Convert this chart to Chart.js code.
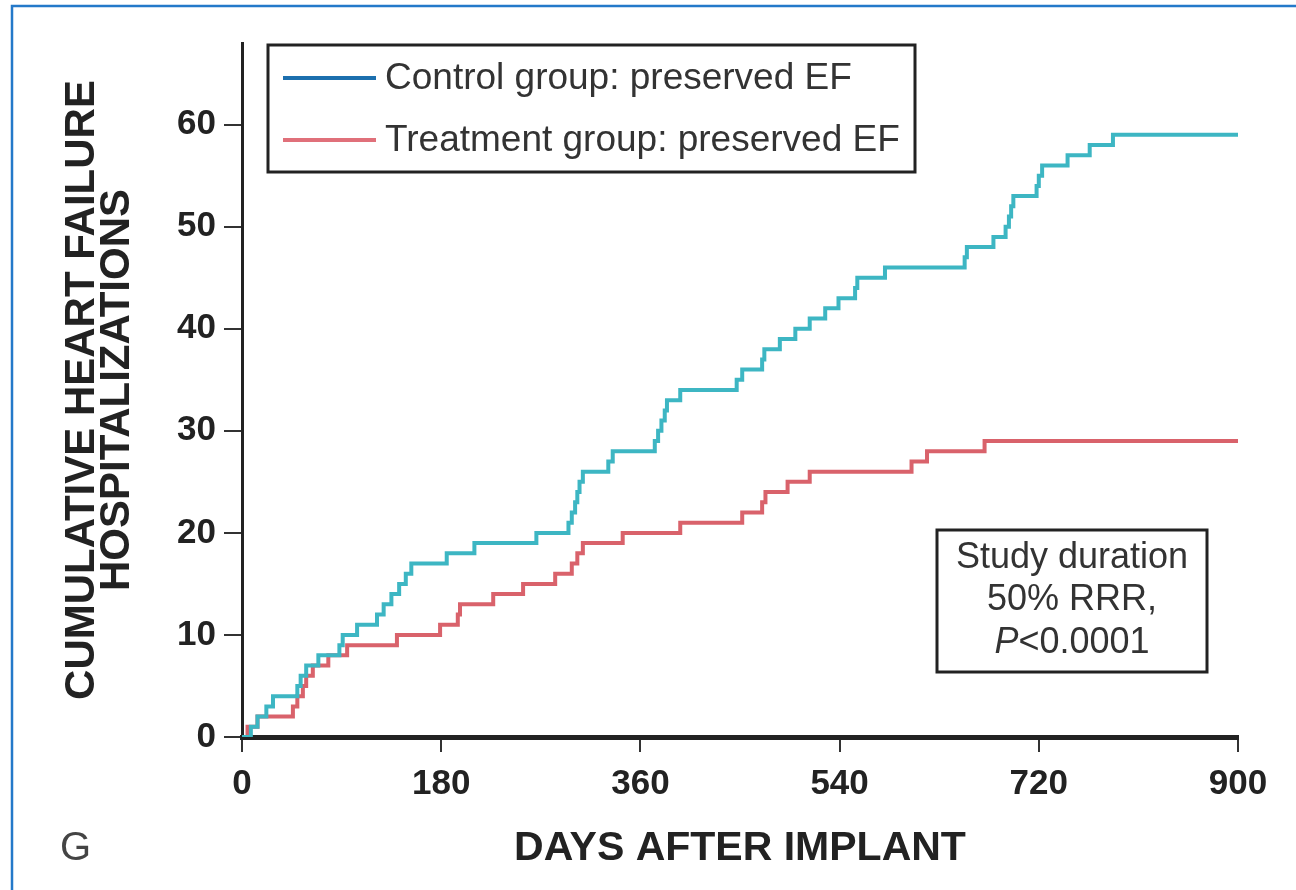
<!DOCTYPE html>
<html>
<head>
<meta charset="utf-8">
<title>Cumulative heart failure hospitalizations</title>
<script src="https://cdn.jsdelivr.net/npm/chart.js@4.4.1/dist/chart.umd.min.js"></script>
<style>
  html, body { margin: 0; padding: 0; background: #fff; overflow: hidden; }
  #graf { display: block; }
</style>
</head>
<body>
<canvas id="graf" width="1296" height="890"></canvas>
<script>
// === DADOS (dia do evento, contagem acumulada) ===
const controlDays = [0, 8, 14, 22, 28, 50, 53, 58, 69, 88, 91, 104, 122, 128, 135, 142, 148, 153,
  185, 210, 266, 295, 298, 301, 303, 305, 308, 331, 335, 373, 376, 379, 382, 384, 396,
  447, 452, 470, 472, 486, 500, 513, 527, 539, 554, 556, 581, 653, 655, 679, 690, 693,
  695, 697, 718, 720, 723, 746, 766, 787, 900];
const controlCounts = [0, 1, 2, 3, 4, 5, 6, 7, 8, 9, 10, 11, 12, 13, 14, 15, 16, 17,
  18, 19, 20, 21, 22, 23, 24, 25, 26, 27, 28, 29, 30, 31, 32, 33, 34,
  35, 36, 37, 38, 39, 40, 41, 42, 43, 44, 45, 46, 47, 48, 49, 50, 51,
  52, 53, 54, 55, 56, 57, 58, 59, 59];

const treatDays = [0, 5, 14, 46, 50, 55, 58, 64, 78, 95, 140, 179, 195, 197, 227, 254, 283,
  298, 303, 308, 344, 396, 452, 470, 473, 493, 513, 605, 619, 671, 900];
const treatCounts = [0, 1, 2, 3, 4, 5, 6, 7, 8, 9, 10, 11, 12, 13, 14, 15, 16,
  17, 18, 19, 20, 21, 22, 23, 24, 25, 26, 27, 28, 29, 29];

const seriesLabels = ["Control group: preserved EF", "Treatment group: preserved EF"];
const xTicks = [0, 180, 360, 540, 720, 900];
const yTicks = [0, 10, 20, 30, 40, 50, 60];
const statsLines = ["Study duration", "50% RRR,", "<0.0001"];

// === CORES ===
const corCurvaControle = "#3db6c3";
const corCurvaTratamento = "#d9626b";
const corLegendaControle = "#1c6fae";
const corLegendaTratamento = "#e0707a";
const corTexto = "#222";
const FONTE = '"Liberation Sans", Arial, sans-serif';

const pontos = (dias, vals) => dias.map((d, i) => ({ x: d, y: vals[i] }));

// legenda com borda, caixa de estatística, letra do painel e moldura azul
const decoracao = {
  id: "decoracao",
  afterDraw(chart) {
    const { ctx } = chart;
    ctx.save();

    // moldura azul da figura
    ctx.strokeStyle = "#2479c9";
    ctx.lineWidth = 2.5;
    ctx.strokeRect(12, 6, 1300, 900);

    // legenda
    ctx.fillStyle = "#fff";
    ctx.fillRect(268, 45, 647, 127);
    ctx.strokeStyle = "#222";
    ctx.lineWidth = 3;
    ctx.strokeRect(268, 45, 647, 127);
    const amostras = [corLegendaControle, corLegendaTratamento];
    const linhasY = [78, 140];
    ctx.font = "37px " + FONTE;
    ctx.textBaseline = "middle";
    ctx.textAlign = "left";
    seriesLabels.forEach((lab, i) => {
      ctx.strokeStyle = amostras[i];
      ctx.lineWidth = 4;
      ctx.beginPath();
      ctx.moveTo(283, linhasY[i]);
      ctx.lineTo(376, linhasY[i]);
      ctx.stroke();
      ctx.fillStyle = "#333";
      ctx.fillText(lab, 385, linhasY[i] + 1);
    });

    // caixa de estatística
    ctx.strokeStyle = "#222";
    ctx.lineWidth = 3;
    ctx.strokeRect(937, 530, 270, 142);
    ctx.fillStyle = "#333";
    ctx.font = "36px " + FONTE;
    ctx.textAlign = "center";
    ctx.fillText(statsLines[0], 1072, 558);
    ctx.fillText(statsLines[1], 1072, 600);
    ctx.font = "italic 36px " + FONTE;
    const wP = ctx.measureText("P").width;
    ctx.font = "36px " + FONTE;
    const wResto = ctx.measureText(statsLines[2]).width;
    const x0 = 1072 - (wP + wResto) / 2;
    ctx.textAlign = "left";
    ctx.font = "italic 36px " + FONTE;
    ctx.fillText("P", x0, 643);
    ctx.font = "36px " + FONTE;
    ctx.fillText(statsLines[2], x0 + wP, 643);

    // letra do painel
    ctx.fillStyle = "#444";
    ctx.font = "40px " + FONTE;
    ctx.fillText("G", 60, 849);

    ctx.restore();
  }
};

const ctx = document.getElementById("graf").getContext("2d");
new Chart(ctx, {
  type: "line",
  data: {
    datasets: [
      {
        label: seriesLabels[0],
        data: pontos(controlDays, controlCounts),
        borderColor: corCurvaControle,
        borderWidth: 4,
        pointRadius: 0,
        stepped: true,
        fill: false,
      },
      {
        label: seriesLabels[1],
        data: pontos(treatDays, treatCounts),
        borderColor: corCurvaTratamento,
        borderWidth: 4,
        pointRadius: 0,
        stepped: true,
        fill: false,
      }
    ]
  },
  options: {
    responsive: false,
    animation: false,
    devicePixelRatio: 1,
    layout: { padding: { left: 20, top: 43, right: 58, bottom: 0 } },
    plugins: {
      legend: { display: false },
      tooltip: { enabled: false },
    },
    scales: {
      x: {
        type: "linear",
        min: 0,
        max: 900,
        afterBuildTicks: (s) => { s.ticks = xTicks.map((v) => ({ value: v })); },
        afterFit: (s) => { s.height = 153; },
        grid: { drawOnChartArea: false, drawTicks: true, tickLength: 15, color: "#333", lineWidth: 2 },
        border: { display: true, color: "#222", width: 5 },
        ticks: { color: corTexto, padding: 11, maxRotation: 0, font: { family: FONTE, size: 35, weight: "bold" } },
        title: {
          display: true,
          text: "DAYS AFTER IMPLANT",
          color: corTexto,
          padding: { bottom: 21 },
          font: { family: FONTE, size: 41, weight: "bold", lineHeight: 1 },
        }
      },
      y: {
        type: "linear",
        min: 0,
        max: 68,
        afterBuildTicks: (s) => { s.ticks = yTicks.map((v) => ({ value: v })); },
        afterFit: (s) => { s.width = 222; },
        grid: { drawOnChartArea: false, drawTicks: true, tickLength: 18, color: "#333", lineWidth: 2 },
        border: { display: true, color: "#222", width: 3 },
        ticks: { color: corTexto, padding: 8, font: { family: FONTE, size: 35, weight: "bold" } },
        title: {
          display: true,
          text: ["CUMULATIVE HEART FAILURE", "HOSPITALIZATIONS"],
          color: corTexto,
          padding: { top: 45 },
          font: { family: FONTE, size: 42, weight: "bold", lineHeight: 0.84 },
        }
      }
    }
  },
  plugins: [decoracao],
});
</script>
</body>
</html>
